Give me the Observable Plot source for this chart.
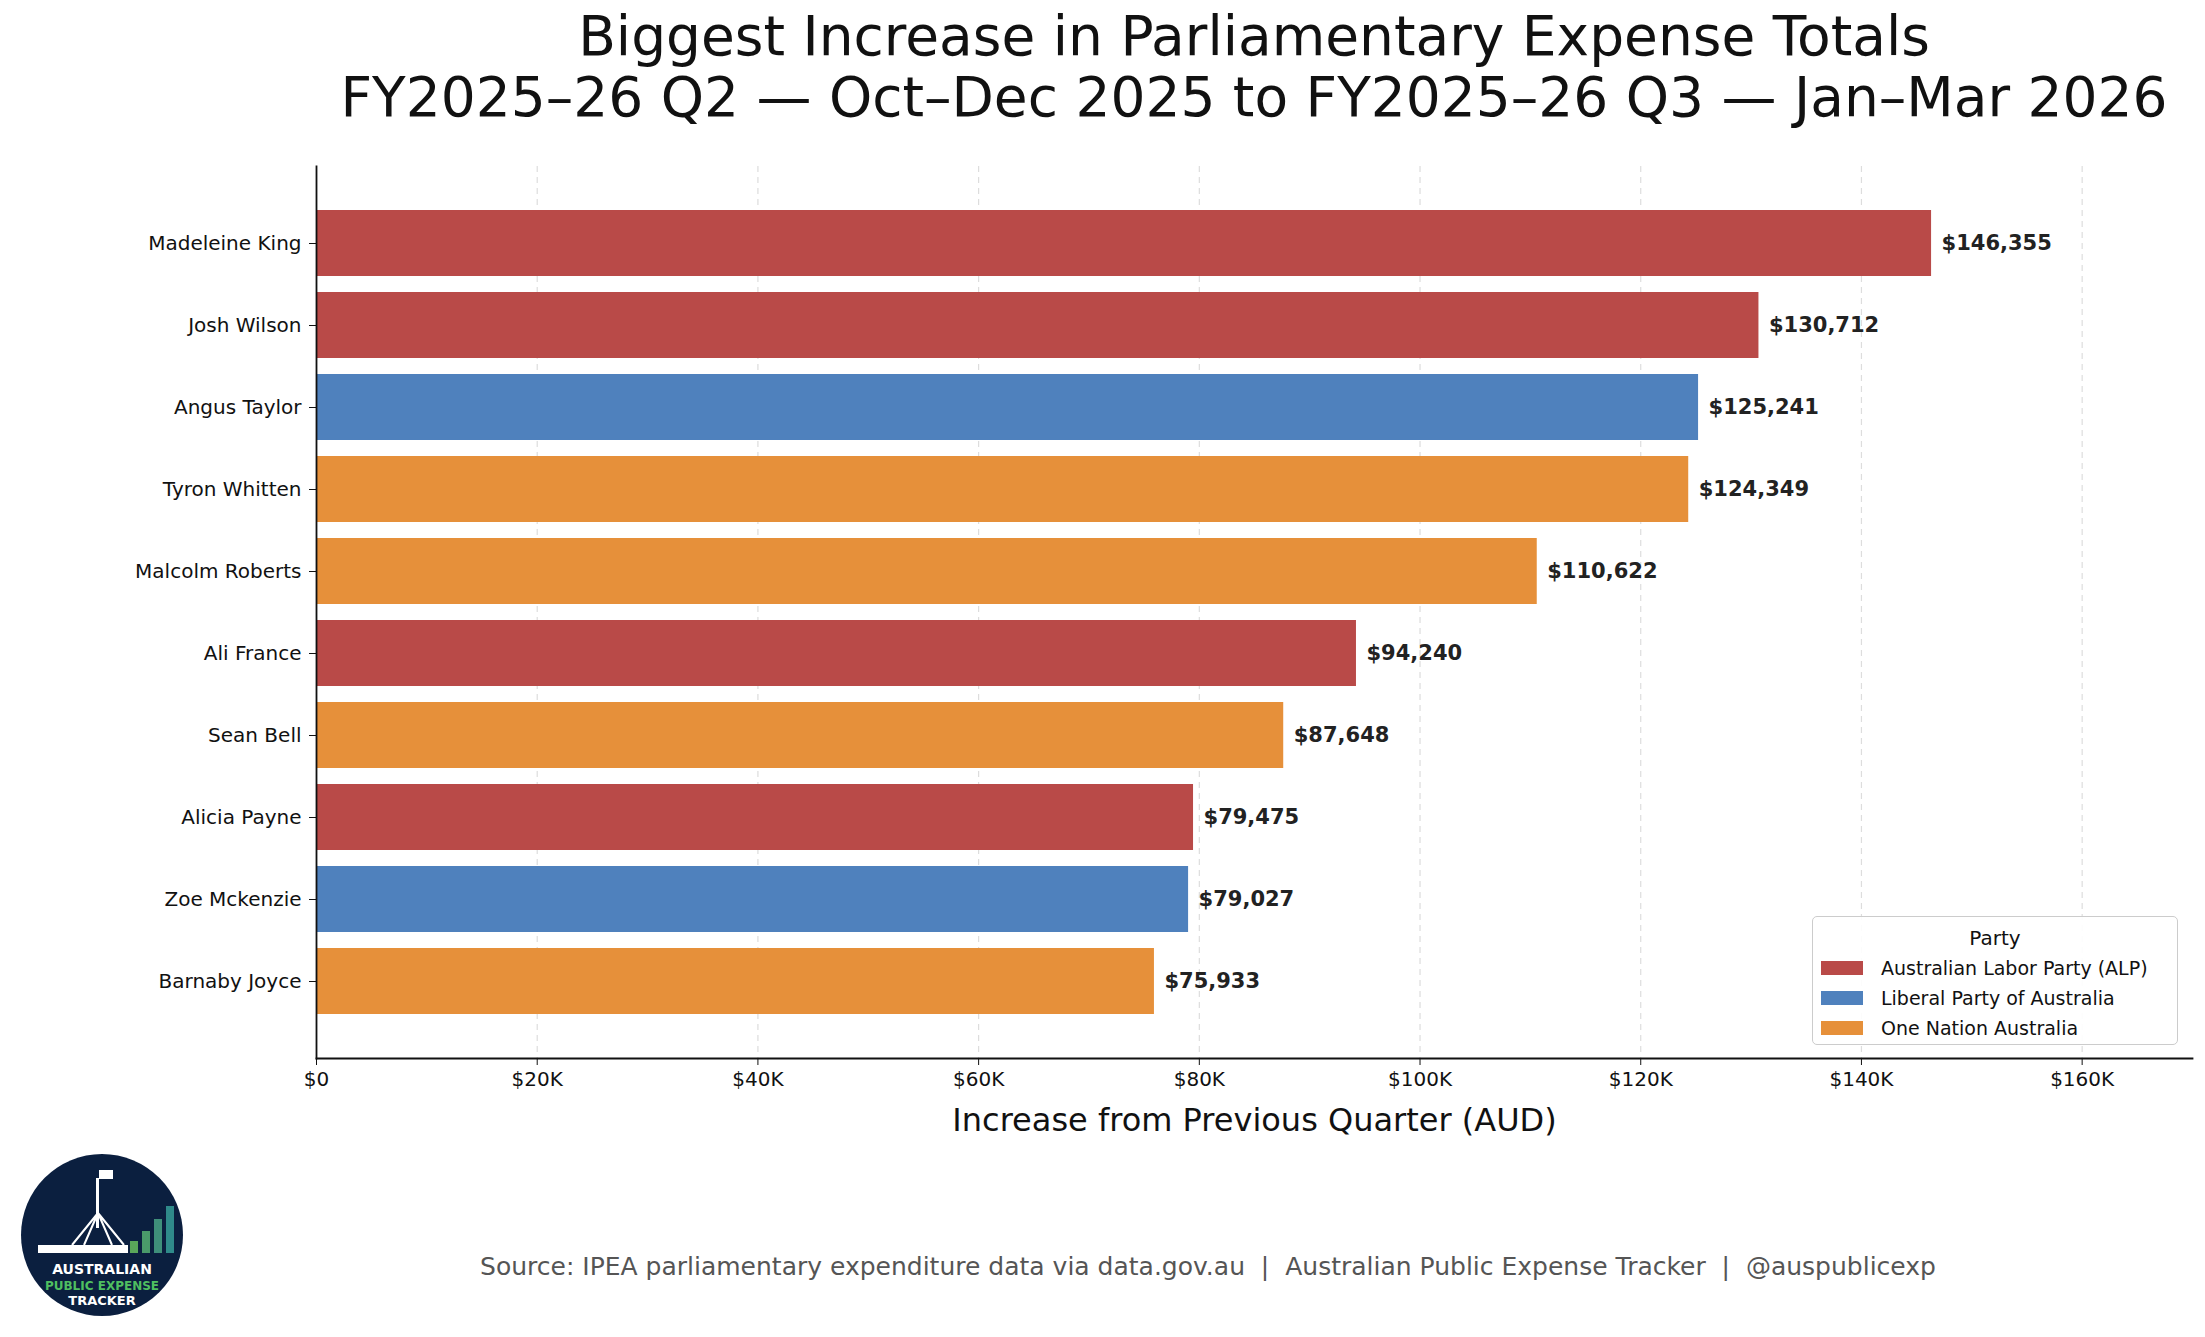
<!DOCTYPE html>
<html><head><meta charset="utf-8">
<script src="https://cdn.jsdelivr.net/npm/d3@7"></script>
<script src="https://cdn.jsdelivr.net/npm/@observablehq/plot@0.6"></script>
<style>
body{margin:0;background:#fff;font-family:"DejaVu Sans",sans-serif;width:2205px;height:1337px;position:relative;overflow:hidden}
#title{position:absolute;top:6px;left:316px;right:13px;text-align:center;font-size:55px;line-height:61px;color:#111}
#chart{position:absolute;top:140px;left:0}
#legend{position:absolute;left:1812px;top:916px;width:366px;height:129px;border:1.5px solid #ccc;border-radius:5px;background:rgba(255,255,255,0.9);font-size:19px;color:#111;box-sizing:border-box}
#legend .t{text-align:center;margin-top:9px;font-size:20px}
#legend .r{display:flex;align-items:center;margin:6px 0 0 8px;height:24px}
#legend .s{width:42px;height:14px;margin-right:18px}
#src{position:absolute;top:1252px;left:208px;width:2000px;text-align:center;font-size:25px;color:#555}
#logo{position:absolute;left:20px;top:1153px}
</style></head><body>
<div id="title">Biggest Increase in Parliamentary Expense Totals<br>FY2025–26 Q2 — Oct–Dec 2025 to FY2025–26 Q3 — Jan–Mar 2026</div>
<div id="chart"></div>
<div id="legend"><div class="t">Party</div></div>
<svg id="logo" width="164" height="164" viewBox="0 0 164 164">
<circle cx="82" cy="82" r="81" fill="#0b1f3f"/>
<rect x="76" y="25" width="3" height="50" fill="#fff"/><rect x="79" y="17" width="14" height="9" fill="#fff"/>
<path d="M78 60 L52 92 M78 60 L64 92 M78 60 L92 92 M78 60 L104 92" stroke="#fff" stroke-width="2"/>
<rect x="18" y="92" width="90" height="8" fill="#fff"/>
<rect x="110" y="88" width="8" height="12" fill="#5aa65a"/><rect x="122" y="78" width="8" height="22" fill="#4a9a6a"/>
<rect x="134" y="66" width="8" height="34" fill="#3f8f7a"/><rect x="146" y="53" width="8" height="47" fill="#2f8a8a"/>
<text x="82" y="121" text-anchor="middle" fill="#fff" font-size="14" font-weight="bold" font-family="DejaVu Sans">AUSTRALIAN</text>
<text x="82" y="137" text-anchor="middle" fill="#4fbf60" font-size="12" font-weight="bold" font-family="DejaVu Sans">PUBLIC EXPENSE</text>
<text x="82" y="152" text-anchor="middle" fill="#fff" font-size="13" font-weight="bold" font-family="DejaVu Sans">TRACKER</text>
</svg>
<div id="src">Source: IPEA parliamentary expenditure data via data.gov.au &nbsp;|&nbsp; Australian Public Expense Tracker &nbsp;|&nbsp; @auspublicexp</div>
<script>
const names = ["Madeleine King","Josh Wilson","Angus Taylor","Tyron Whitten","Malcolm Roberts","Ali France","Sean Bell","Alicia Payne","Zoe Mckenzie","Barnaby Joyce"];
const values = [146355,130712,125241,124349,110622,94240,87648,79475,79027,75933];
const parties = ["Australian Labor Party (ALP)","Australian Labor Party (ALP)","Liberal Party of Australia","One Nation Australia","One Nation Australia","Australian Labor Party (ALP)","One Nation Australia","Australian Labor Party (ALP)","Liberal Party of Australia","One Nation Australia"];
const partyNames = ["Australian Labor Party (ALP)","Liberal Party of Australia","One Nation Australia"];
const partyColors = ["#b94a48","#4f81bd","#e6903a"];
const xTicks = [0,20000,40000,60000,80000,100000,120000,140000,160000];
const data = names.map((n,i)=>({name:n,value:values[i],party:parties[i]}));
const fmtK = d => d===0 ? "$0" : "$"+(d/1000)+"K";
const chart = Plot.plot({
  width:2205, height:1018, marginTop:26, marginBottom:100, marginLeft:316, marginRight:13,
  style:{fontFamily:"DejaVu Sans",fontSize:"20px",color:"#111"},
  x:{domain:[0,170000],ticks:xTicks,tickFormat:fmtK,label:null},
  y:{domain:names,padding:0.2,insetTop:25,insetBottom:26,label:null},
  color:{domain:partyNames,range:partyColors},
  marks:[
    Plot.ruleX(xTicks.slice(1),{stroke:"#ddd",strokeDasharray:"6,5",strokeWidth:1.2}),
    Plot.barX(data,{x:"value",y:"name",fill:"party"}),
    Plot.text(data,{x:"value",y:"name",text:d=>"$"+d3.format(",")(d.value),textAnchor:"start",dx:10,fontWeight:"bold",fontSize:21,fill:"#222"}),
    Plot.axisX({ticks:xTicks,tickFormat:fmtK,tickSize:7,tickPadding:6,fontSize:20,label:null}),
    Plot.axisY({tickSize:7,tickPadding:8,fontSize:20,label:null}),
    Plot.frame({anchor:"left",stroke:"#111",strokeWidth:1.8}),
    Plot.frame({anchor:"bottom",stroke:"#111",strokeWidth:1.8}),
    Plot.text(["Increase from Previous Quarter (AUD)"],{frameAnchor:"bottom",dy:72,fontSize:32,fill:"#111"})
  ]
});
document.getElementById("chart").appendChild(chart);
const lg=document.getElementById("legend");
partyNames.forEach((p,i)=>{const r=document.createElement("div");r.className="r";r.innerHTML=`<div class="s" style="background:${partyColors[i]}"></div>${p}`;lg.appendChild(r);});
</script>
</body></html>
